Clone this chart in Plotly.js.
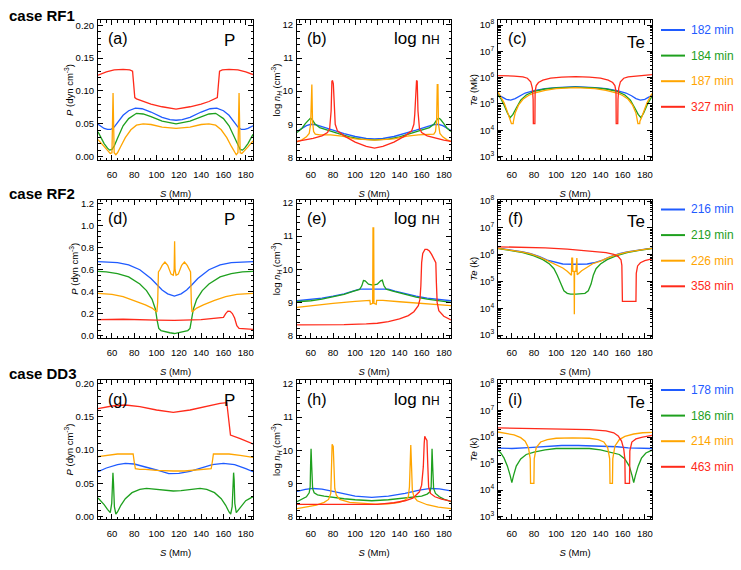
<!DOCTYPE html>
<html>
<head>
<meta charset="utf-8">
<script src="https://cdn.plot.ly/plotly-3.0.1.min.js"></script>
<style>html,body{margin:0;padding:0;background:#fff;}#chart{width:741px;height:570px;}</style>
</head>
<body>
<div id="chart"></div>
<script>
// ---------------- DATA ----------------
const CASES = ['case RF1', 'case RF2', 'case DD3'];
const LEG_RF1 = ['182 min', '184 min', '187 min', '327 min'];
const LEG_RF2 = ['216 min', '219 min', '226 min', '358 min'];
const LEG_DD3 = ['178 min', '186 min', '214 min', '463 min'];
const PANEL_TAGS = ['(a)','(b)','(c)','(d)','(e)','(f)','(g)','(h)','(i)'];
const LOG_TICKS = [1e3, 1e4, 1e5, 1e6, 1e7, 1e8];
const LOG_TEXT = ['10<sup>3</sup>','10<sup>4</sup>','10<sup>5</sup>','10<sup>6</sup>','10<sup>7</sup>','10<sup>8</sup>'];

// (a) P, RF1
const a_S_blue = [47.5,50,53,56,59,62,65,70,75,81,87,95,105,112,117.5,123,130,140,148,154,160,165,170,173,176,179,182,186.5];
const a_Y_blue = [0.0495,0.046,0.043,0.0415,0.0415,0.045,0.052,0.063,0.070,0.074,0.073,0.068,0.060,0.0565,0.0555,0.0565,0.060,0.068,0.073,0.074,0.070,0.063,0.052,0.045,0.0415,0.0415,0.043,0.047];
const a_S_green = [47.5,50,53,56,58,60,62,65,70,75,82,88,95,105,117.5,130,140,147,153,160,165,170,173,175,177,179,182,186.5];
const a_Y_green = [0.038,0.030,0.020,0.013,0.010,0.011,0.016,0.028,0.047,0.058,0.066,0.065,0.061,0.054,0.050,0.054,0.061,0.065,0.066,0.058,0.047,0.028,0.016,0.011,0.010,0.013,0.020,0.034];
const a_S_orange = [47.5,50,53,56,58.5,60,60.5,61,61.5,62,63.5,65,68,72,77,82,88,95,105,117.5,130,140,147,153,158,163,167,170,171.5,173,173.5,174,174.5,175,176.5,179,182,185,186.5];
const a_Y_orange = [0.026,0.021,0.015,0.009,0.005,0.006,0.05,0.097,0.05,0.006,0.003,0.006,0.016,0.029,0.041,0.048,0.050,0.049,0.045,0.043,0.045,0.049,0.050,0.048,0.041,0.029,0.016,0.006,0.003,0.006,0.05,0.097,0.05,0.006,0.005,0.009,0.015,0.021,0.024];
const a_S_red = [47.5,55,62,70,76,78.5,79.5,80.5,82,88,95,105,117.5,130,140,147,153,154.5,155.5,156.5,159,165,173,180,186.5];
const a_Y_red = [0.124,0.129,0.132,0.133,0.132,0.130,0.11,0.090,0.088,0.084,0.080,0.076,0.0725,0.076,0.080,0.084,0.088,0.090,0.11,0.130,0.132,0.133,0.132,0.129,0.125];

// (b) log nH, RF1
const b_S_blue = [47.5,52,56,60,65,70,80,90,100,110,117.5,125,135,145,155,165,170,175,179,183,186.5];
const b_Y_blue = [8.78,8.88,8.96,9.0,8.98,8.93,8.82,8.72,8.63,8.57,8.56,8.57,8.63,8.72,8.82,8.93,8.98,9.0,8.96,8.88,8.81];
const b_S_green = [47.5,52,55,58,59.5,61,64,68,75,85,95,105,117.5,130,140,150,160,167,171,174,175.5,177,180,183,186.5];
const b_Y_green = [8.75,8.88,9.02,9.15,9.18,9.15,9.0,8.9,8.82,8.72,8.62,8.55,8.53,8.55,8.62,8.72,8.82,8.9,9.0,9.15,9.18,9.15,9.02,8.88,8.78];
const b_S_orange = [47.5,52,56,58.5,59.8,60.3,60.9,61.5,62.5,64,68,78,88,100,117.5,135,147,157,167,171,172.5,173.5,174.1,174.7,175.2,176.5,179,183,186.5];
const b_Y_orange = [8.47,8.53,8.62,8.72,9.0,10.2,10.2,9.1,8.78,8.7,8.68,8.68,8.64,8.56,8.52,8.56,8.64,8.68,8.68,8.7,8.78,9.1,10.2,10.2,9.0,8.72,8.62,8.53,8.48];
const b_S_red = [47.5,55,62,70,75,77,78.3,79,79.6,80.3,81.2,82,84,90,100,110,117.5,125,135,145,151,153,153.8,154.7,155.4,156,156.7,158,160,165,173,180,186.5];
const b_Y_red = [8.48,8.52,8.57,8.65,8.75,8.88,9.4,10.3,10.32,10.22,9.3,9.0,8.8,8.65,8.46,8.33,8.28,8.33,8.46,8.65,8.8,9.0,9.3,10.22,10.32,10.3,9.4,8.88,8.75,8.65,8.57,8.52,8.48];

// (c) Te, RF1
const c_S_blue = [47.5,51,55,59,63,67,72,80,90,100,117.5,135,145,155,163,168,172,176,180,184,186.5];
const c_Y_blue = [2.4e5,1.85e5,1.5e5,1.4e5,1.6e5,2.05e5,2.6e5,3.2e5,3.8e5,4.2e5,4.5e5,4.2e5,3.8e5,3.2e5,2.6e5,2.05e5,1.6e5,1.4e5,1.5e5,1.85e5,2.2e5];
const c_S_green = [47.5,50,53,56,58.5,61,64,68,73,80,90,100,117.5,135,145,155,162,167,171,174,176.5,179,182,185,186.5];
const c_Y_green = [2.2e5,1.6e5,9e4,4.5e4,3e4,4e4,7e4,1.4e5,2.2e5,3e5,3.7e5,4.1e5,4.35e5,4.1e5,3.7e5,3e5,2.2e5,1.4e5,7e4,4e4,3e4,4.5e4,9e4,1.6e5,2e5];
const c_S_orange = [47.5,50,53,56,58,59.4,59.6,61.2,61.4,63,66,70,75,80,90,100,117.5,135,145,155,160,165,169,172,173.6,173.8,175.4,175.6,177,179,182,185,186.5];
const c_Y_orange = [2.8e5,1.9e5,1.1e5,5e4,3e4,2.2e4,1.8e4,1.8e4,2.2e4,4.5e4,9e4,1.5e5,2.1e5,2.6e5,3.3e5,3.8e5,4.2e5,3.8e5,3.3e5,2.6e5,2.1e5,1.5e5,9e4,4.5e4,2.2e4,1.8e4,1.8e4,2.2e4,3e4,5e4,1.1e5,1.9e5,2.5e5];
const c_S_red = [47.5,55,62,70,74,77,78.5,79.2,79.4,80.8,81,82,84,88,95,105,117.5,130,140,147,151,153,154,154.2,155.6,155.8,156.5,158,161,165,173,180,186.5];
const c_Y_red = [1.2e6,1.2e6,1.15e6,1.07e6,9.5e5,7e5,4e5,1.5e5,1.8e4,1.8e4,3e5,5e5,6.5e5,8e5,9.5e5,1.05e6,1.1e6,1.05e6,9.5e5,8e5,6.5e5,5e5,3e5,1.8e4,1.8e4,1.5e5,4e5,7e5,9.5e5,1.07e6,1.15e6,1.22e6,1.3e6];

// (d) P, RF2
const d_S_blue = [47.5,55,65,75,85,95,100,105,110,116,122,127,132,137,147,157,167,177,186.5];
const d_Y_blue = [0.674,0.672,0.665,0.645,0.6,0.52,0.465,0.415,0.38,0.36,0.38,0.415,0.465,0.52,0.6,0.645,0.665,0.672,0.674];
const d_S_green = [47.5,55,65,75,85,91,96,99,100.5,102,104,107,112,116,120,125,128,130,131.5,133,136,141,147,157,167,177,186.5];
const d_Y_green = [0.585,0.58,0.565,0.535,0.47,0.41,0.33,0.24,0.14,0.065,0.045,0.04,0.025,0.018,0.025,0.04,0.045,0.065,0.14,0.24,0.33,0.41,0.47,0.535,0.565,0.58,0.585];
const d_S_orange = [47.5,60,70,80,90,96,100.3,101,101.7,103,105,107.5,110,113,115,115.8,116.2,116.6,117.5,119.5,122.5,125,127.5,129.5,130.5,131.2,131.8,136,142,152,162,172,186.5];
const d_Y_orange = [0.385,0.375,0.355,0.32,0.28,0.25,0.215,0.3,0.58,0.6,0.64,0.67,0.64,0.56,0.55,0.6,0.86,0.6,0.55,0.56,0.64,0.67,0.64,0.6,0.58,0.3,0.215,0.25,0.28,0.32,0.355,0.375,0.385];
const d_S_red = [47.5,70,100,116,140,155,160,162,164,166,168,170,172,174,180,186.5];
const d_Y_red = [0.145,0.148,0.14,0.137,0.145,0.158,0.166,0.2,0.222,0.22,0.2,0.16,0.09,0.065,0.06,0.055];

// (e) log nH, RF2
const e_S_blue = [47.5,60,70,80,90,98,104,116,130,136,145,155,165,175,186.5];
const e_Y_blue = [9.05,9.09,9.13,9.19,9.26,9.34,9.4,9.4,9.4,9.34,9.26,9.19,9.13,9.09,9.05];
const e_S_green = [47.5,60,70,80,90,98,104,106,107.5,109,112,116,120,123,124.5,126,128,134,145,155,165,175,186.5];
const e_Y_green = [9.02,9.05,9.1,9.16,9.24,9.33,9.39,9.5,9.66,9.65,9.55,9.52,9.55,9.65,9.67,9.5,9.4,9.34,9.24,9.16,9.1,9.05,9.0];
const e_S_orange = [47.5,60,80,100,110,113.3,113.7,115.8,116.1,116.7,117,119,119.4,125,140,160,186.5];
const e_Y_orange = [8.85,8.9,8.97,9.03,9.06,9.06,8.94,8.97,11.25,11.25,8.97,8.94,9.06,9.06,9.02,8.96,8.9];
const e_S_red = [47.5,70,90,110,120,130,140,148,153,157,158.5,159.3,160,161,163,165,167,169,171,172.8,173.3,174,175.5,180,186.5];
const e_Y_red = [8.32,8.32,8.33,8.35,8.37,8.42,8.5,8.6,8.72,8.9,9.1,9.5,10.2,10.48,10.6,10.6,10.55,10.45,10.32,10.2,9.6,9.0,8.75,8.58,8.47];

// (f) Te, RF2
const f_S_blue = [47.5,60,70,77,85,92,100,106,117,128,134,142,149,157,164,174,186.5];
const f_Y_blue = [1.75e6,1.5e6,1.28e6,1.1e6,8.5e5,6.3e5,5e5,4.5e5,4.4e5,4.5e5,5e5,6.3e5,8.5e5,1.1e6,1.28e6,1.5e6,1.75e6];
const f_S_green = [47.5,60,70,80,88,94,98,101,104,107,110,113,118,123,126,129,131.5,133.5,136,140,146,154,164,175,186.5];
const f_Y_green = [1.7e6,1.45e6,1.2e6,9e5,6.5e5,4.5e5,3e5,1.7e5,8e4,4.5e4,3.6e4,3.4e4,3.4e4,3.4e4,3.6e4,4.5e4,8e4,1.7e5,3e5,4.5e5,6.5e5,9e5,1.2e6,1.45e6,1.7e6];
const f_S_orange = [47.5,60,70,77,85,92,100,106,110,113.8,114.1,114.8,115.1,116.2,116.4,116.6,117.8,118.1,118.7,119,123,128,133,140,147,155,164,175,186.5];
const f_Y_orange = [1.72e6,1.48e6,1.25e6,1.07e6,8.2e5,6e5,4.2e5,3.2e5,2.4e5,1.7e5,7.5e5,7.5e5,2.4e5,2.4e5,6e3,2.4e5,2.4e5,7.5e5,7.5e5,1.8e5,2.5e5,3.4e5,4.6e5,5.8e5,7.8e5,1.0e6,1.25e6,1.48e6,1.72e6];
const f_S_red = [47.5,70,90,110,130,145,152,156,158.5,159.3,159.8,172,172.3,173.5,176,180,186.5];
const f_Y_red = [1.97e6,1.9e6,1.8e6,1.62e6,1.4e6,1.2e6,1.03e6,8.5e5,6.5e5,4e5,1.8e4,1.8e4,2e5,3.8e5,5e5,6e5,7e5];

// (g) P, DD3
const g_S_blue = [47.5,55,65,72,80,90,100,111,120,130,140,150,160,170,180,186.5];
const g_Y_blue = [0.0675,0.073,0.078,0.080,0.079,0.075,0.070,0.0645,0.065,0.068,0.073,0.078,0.080,0.078,0.072,0.0675];
const g_S_green = [47.5,50,53,56,58.5,59.8,60.4,60.9,61.4,62.2,63.5,65,68,72,78,85,91,100,108,115,122,130,139,145,152,158,162,165,166.5,167.8,168.6,169.1,169.6,170.2,171.5,174,177,180,186.5];
const g_Y_green = [0.028,0.024,0.018,0.011,0.006,0.02,0.055,0.066,0.05,0.015,0.004,0.007,0.017,0.027,0.036,0.041,0.0425,0.041,0.039,0.0385,0.039,0.041,0.0425,0.041,0.036,0.027,0.017,0.007,0.004,0.015,0.05,0.066,0.055,0.02,0.006,0.011,0.018,0.024,0.03];
const g_S_orange = [47.5,55,65,75,79,80,81,85,90,100,110,115,125,135,145,149,150,151,155,165,175,186.5];
const g_Y_orange = [0.09,0.092,0.094,0.094,0.094,0.082,0.072,0.071,0.071,0.0695,0.0685,0.0685,0.0685,0.0695,0.071,0.072,0.082,0.094,0.094,0.094,0.092,0.089];
const g_S_red = [47.5,60,72,85,100,115,130,145,157,163,163.6,166.3,175,186.5];
const g_Y_red = [0.162,0.166,0.1675,0.165,0.16,0.1565,0.16,0.166,0.17,0.171,0.16,0.1225,0.117,0.109];

// (h) log nH, DD3
const h_S_blue = [47.5,55,62,70,80,90,100,115,130,145,158,168,176,186.5];
const h_Y_blue = [8.76,8.82,8.85,8.83,8.76,8.68,8.62,8.58,8.62,8.7,8.8,8.85,8.84,8.78];
const h_S_green = [47.5,52,56,58.5,59.4,59.8,60.2,60.8,61.6,63,66,72,80,90,100,115,130,145,155,160,165,167.5,168.6,169.0,169.4,170.0,170.8,172.5,176,180,186.5];
const h_Y_green = [8.45,8.52,8.6,8.72,8.9,9.6,10.05,9.5,8.85,8.72,8.66,8.62,8.58,8.54,8.51,8.48,8.51,8.56,8.6,8.62,8.68,8.75,8.9,9.6,10.05,9.5,8.85,8.7,8.6,8.53,8.45];
const h_S_orange = [47.5,55,65,72,76,78,78.6,79.2,80.2,80.8,81.6,83,86,95,110,118,130,140,145,148,149,149.6,150.2,151,151.6,153,156,165,175,186.5];
const h_Y_orange = [8.24,8.28,8.35,8.43,8.52,8.7,9.5,10.18,10.12,9.5,8.85,8.65,8.52,8.43,8.39,8.38,8.39,8.43,8.5,8.6,8.9,10.08,10.16,9.4,8.8,8.6,8.48,8.36,8.29,8.24];
const h_S_red = [47.5,60,80,100,120,135,145,152,158,160,161.5,162.3,162.8,163.8,164.8,165.5,166.3,168,172,178,186.5];
const h_Y_red = [8.37,8.37,8.36,8.36,8.37,8.42,8.48,8.56,8.75,8.95,9.5,10.2,10.42,10.35,10.3,9.6,8.9,8.7,8.6,8.53,8.47];

// (i) Te, DD3
const i_S_blue = [47.5,60,75,90,105,120,140,155,165,175,186.5];
const i_Y_blue = [3.8e5,3.7e5,4.0e5,4.5e5,4.8e5,4.8e5,4.6e5,4.3e5,3.9e5,3.7e5,3.7e5];
const i_S_green = [47.5,50,53,56,58.5,60,61.5,64,68,73,80,90,100,115,130,140,150,157,162,166,168.5,170,171.5,174,177,181,186.5];
const i_Y_green = [3.2e5,2.5e5,1.6e5,8e4,3.5e4,1.9e4,3.5e4,8e4,1.5e5,2.2e5,2.7e5,3.3e5,3.7e5,3.8e5,3.7e5,3.3e5,2.7e5,2.2e5,1.5e5,8e4,3.5e4,1.9e4,3.5e4,8e4,1.6e5,2.5e5,3.2e5];
const i_S_orange = [47.5,55,62,68,72,75,76.6,76.9,79.9,80.2,82,86,92,100,115,130,138,143,146.5,148.3,148.6,150.8,151.1,153,157,162,170,178,186.5];
const i_Y_orange = [1.55e6,1.4e6,1.2e6,9.5e5,7e5,4e5,1.5e5,1.8e4,1.8e4,1.5e5,4e5,6.5e5,8e5,9e5,9.3e5,9e5,8e5,6.5e5,4e5,1.5e5,1.8e4,1.8e4,1.5e5,4.5e5,8e5,1.05e6,1.3e6,1.45e6,1.5e6];
const i_S_red = [47.5,70,100,130,145,152,156,159,161,162,162.3,166.2,166.5,168.3,172,178,186.5];
const i_Y_red = [2.2e6,2.15e6,2.05e6,1.9e6,1.7e6,1.45e6,1.1e6,7e5,3.5e5,1.5e5,1.8e4,1.8e4,3e5,6.5e5,8.5e5,1e6,1.15e6];

// ---------------- BUILD ----------------
const COLORS = ['#1f5bff', '#1ea01e', '#ffa500', '#ff2a1a'];
const W = 741, H = 570;
const px = v => v / W;
const py = v => 1 - v / H;
const FONT = 'Liberation Sans, Arial, Helvetica, sans-serif';

const colPx = [[98, 253], [297, 451], [498, 652]];
const rowPx = [[20, 160], [199.5, 338], [380, 519]];

const seriesByPanel = [
  [[a_S_blue,a_Y_blue],[a_S_green,a_Y_green],[a_S_orange,a_Y_orange],[a_S_red,a_Y_red]],
  [[b_S_blue,b_Y_blue],[b_S_green,b_Y_green],[b_S_orange,b_Y_orange],[b_S_red,b_Y_red]],
  [[c_S_blue,c_Y_blue],[c_S_green,c_Y_green],[c_S_orange,c_Y_orange],[c_S_red,c_Y_red]],
  [[d_S_blue,d_Y_blue],[d_S_green,d_Y_green],[d_S_orange,d_Y_orange],[d_S_red,d_Y_red]],
  [[e_S_blue,e_Y_blue],[e_S_green,e_Y_green],[e_S_orange,e_Y_orange],[e_S_red,e_Y_red]],
  [[f_S_blue,f_Y_blue],[f_S_green,f_Y_green],[f_S_orange,f_Y_orange],[f_S_red,f_Y_red]],
  [[g_S_blue,g_Y_blue],[g_S_green,g_Y_green],[g_S_orange,g_Y_orange],[g_S_red,g_Y_red]],
  [[h_S_blue,h_Y_blue],[h_S_green,h_Y_green],[h_S_orange,h_Y_orange],[h_S_red,h_Y_red]],
  [[i_S_blue,i_Y_blue],[i_S_green,i_Y_green],[i_S_orange,i_Y_orange],[i_S_red,i_Y_red]]
];
const legendNames = [LEG_RF1, LEG_RF2, LEG_DD3];

const yRanges = [
  [-0.005, 0.208], [7.92, 12.15], [2.87, 8.19],
  [-0.023, 1.241], [7.925, 12.106], [2.89, 8.06],
  [-0.0035, 0.205], [7.93, 12.12], [2.91, 8.15]
];
const yTitles = [
  '<i>P</i> (dyn cm<sup>-3</sup>)', 'log <i>n<sub>H</sub></i> (cm<sup>-3</sup>)', '<i>Te</i> (Mk)',
  '<i>P</i> (dyn cm<sup>-3</sup>)', 'log <i>n<sub>H</sub></i> (cm<sup>-3</sup>)', '<i>Te</i> (k)',
  '<i>P</i> (dyn cm<sup>-3</sup>)', 'log <i>n<sub>H</sub></i> (cm<sup>-3</sup>)', '<i>Te</i> (k)'
];
const qtyLabels = ['P', 'log n<span style="font-size:12px">H</span>', 'Te'];

const traces = [];
const layout = {
  width: W, height: H,
  margin: {l: 0, r: 0, t: 0, b: 0},
  paper_bgcolor: '#fff', plot_bgcolor: '#fff',
  showlegend: false,
  font: {family: FONT, color: '#000', size: 9.5},
  annotations: [], shapes: []
};

for (let p = 0; p < 9; p++) {
  const r = Math.floor(p / 3), c = p % 3;
  const k = p + 1;
  const xa = 'x' + (k === 1 ? '' : k), ya = 'y' + (k === 1 ? '' : k);
  seriesByPanel[p].forEach((sr, j) => {
    traces.push({
      x: sr[0], y: sr[1], xaxis: xa, yaxis: ya, type: 'scatter', mode: 'lines',
      name: legendNames[r][j], line: {color: COLORS[j], width: 1.3}, hoverinfo: 'skip'
    });
  });
  const common = {
    showline: true, linecolor: '#000', linewidth: 1, mirror: 'ticks',
    ticks: 'inside', ticklen: 5, tickwidth: 1, tickcolor: '#000',
    showgrid: false, zeroline: false,
    tickfont: {family: FONT, size: 9.5, color: '#000'}
  };
  const xaxis = Object.assign({}, common, {
    domain: [px(colPx[c][0]), px(colPx[c][1])], anchor: ya,
    range: [47.5, 186.5], tick0: 0, dtick: 20, ticklabelstandoff: 6,
    minor: {ticks: 'inside', ticklen: 2.5, dtick: 5, tickcolor: '#000', showgrid: false},
    title: {text: '<i>S</i> (Mm)', standoff: 10, font: {family: FONT, size: 9.5, color: '#000'}}
  });
  const yaxis = Object.assign({}, common, {
    domain: [py(rowPx[r][1]), py(rowPx[r][0])], anchor: xa, ticklabelstandoff: 1,
    title: {text: yTitles[p], standoff: 0, font: {family: FONT, size: 9.5, color: '#000'}}
  });
  if (c === 0) {
    const big = r === 1;
    Object.assign(yaxis, {range: yRanges[p], tick0: 0, dtick: big ? 0.2 : 0.05,
      tickformat: big ? '.1f' : '.2f',
      minor: {ticks: 'inside', ticklen: 2.5, dtick: big ? 0.05 : 0.01, tickcolor: '#000', showgrid: false}});
  } else if (c === 1) {
    Object.assign(yaxis, {range: yRanges[p], tick0: 0, dtick: 1,
      minor: {ticks: 'inside', ticklen: 2.5, dtick: 0.2, tickcolor: '#000', showgrid: false}});
  } else {
    Object.assign(yaxis, {type: 'log', range: yRanges[p], tickvals: LOG_TICKS, ticktext: LOG_TEXT,
      minor: {ticks: 'inside', ticklen: 2.5, dtick: 'D1', tickcolor: '#000', showgrid: false}});
  }
  layout['xaxis' + (k === 1 ? '' : k)] = xaxis;
  layout['yaxis' + (k === 1 ? '' : k)] = yaxis;

  // panel tag
  layout.annotations.push({xref: 'paper', yref: 'paper', x: px(colPx[c][0] + 8), y: py(rowPx[r][0] + 19),
    xanchor: 'left', yanchor: 'middle', showarrow: false, text: PANEL_TAGS[p],
    font: {family: FONT, size: 16, color: '#000'}});
  // quantity label
  const qOff = [16, 9, 5][c];
  const qY = [20, 19, 22][c];
  layout.annotations.push({xref: 'paper', yref: 'paper', x: px(colPx[c][1] - qOff), y: py(rowPx[r][0] + qY),
    xanchor: 'right', yanchor: 'middle', showarrow: false, text: qtyLabels[c],
    font: {family: FONT, size: 17, color: '#000'}});
}

const caseY = [16, 194, 373];
for (let r = 0; r < 3; r++) {
  layout.annotations.push({xref: 'paper', yref: 'paper', x: px(7), y: py(caseY[r]),
    xanchor: 'left', yanchor: 'middle', showarrow: false, text: '<b>' + CASES[r] + '</b>',
    font: {family: FONT, size: 15, color: '#000'}});
  for (let j = 0; j < 4; j++) {
    const yy = rowPx[r][0] + 10 + j * 25.6;
    layout.shapes.push({type: 'line', xref: 'paper', yref: 'paper',
      x0: px(661), x1: px(685), y0: py(yy), y1: py(yy), line: {color: COLORS[j], width: 2}});
    layout.annotations.push({xref: 'paper', yref: 'paper', x: px(689), y: py(yy),
      xanchor: 'left', yanchor: 'middle', showarrow: false, text: legendNames[r][j],
      font: {family: FONT, size: 12, color: COLORS[j]}});
  }
}

Plotly.newPlot('chart', traces, layout, {displayModeBar: false, staticPlot: true});
</script>
</body>
</html>
